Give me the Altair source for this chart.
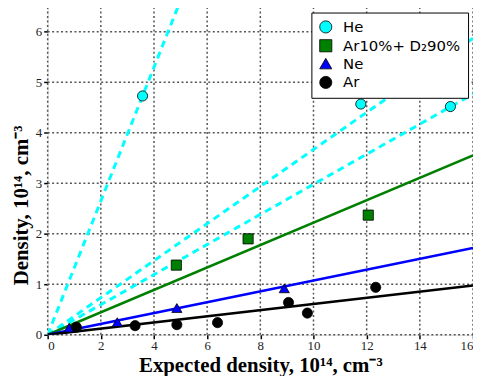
import altair as alt
import pandas as pd

# Measured points
he_x = [3.57, 11.78, 15.15]
he_y = [4.73, 4.57, 4.52]
mix_x = [4.84, 7.54, 12.06]
mix_y = [1.38, 1.90, 2.37]
ne_x = [0.81, 2.62, 4.86, 8.90]
ne_y = [0.14, 0.25, 0.53, 0.92]
ar_x = [1.08, 3.29, 4.86, 6.39, 9.06, 9.77, 12.34]
ar_y = [0.15, 0.18, 0.20, 0.24, 0.64, 0.43, 0.94]

series = ["He", "Ar10%+ D₂90%", "Ne", "Ar"]
colors = ["#00FFFF", "#008000", "#0000FF", "#000000"]
shapes = ["circle", "square", "triangle-up", "circle"]

# Fit lines through origin (slopes)
line_names = ["He a", "He b", "He c", "mix", "Ne", "Ar"]
line_slopes = [1.325, 0.367, 0.298, 0.222, 0.1075, 0.061]
line_colors = ["#00FFFF", "#00FFFF", "#00FFFF", "#008000", "#0000FF", "#000000"]
line_dashed = [True, True, True, False, False, False]
x_span = [0.0, 16.0]

x_ticks = [0, 2, 4, 6, 8, 10, 12, 14, 16]
y_ticks = [0, 1, 2, 3, 4, 5, 6]
x_min, x_max = 0, 16
y_min, y_max = 0, 6.5

W, H = 429, 331

rows = []
for name, xs_, ys_ in [(series[0], he_x, he_y), (series[1], mix_x, mix_y),
                       (series[2], ne_x, ne_y), (series[3], ar_x, ar_y)]:
    for a, b in zip(xs_, ys_):
        rows.append({"x": a, "y": b, "s": name})
pts = pd.DataFrame(rows)

lrows = []
for n, k, c, d in zip(line_names, line_slopes, line_colors, line_dashed):
    for xv in x_span:
        lrows.append({"x": xv, "y": k * xv, "n": n, "c": c, "d": d})
lines = pd.DataFrame(lrows)

# grid segments (built from tick values)
grows = []
for v in x_ticks:
    grows.append({"x": v, "y": y_min, "g": f"x{v}", "o": 0})
    grows.append({"x": v, "y": y_max, "g": f"x{v}", "o": 1})
for v in y_ticks:
    grows.append({"x": x_min, "y": v, "g": f"y{v}", "o": 0})
    grows.append({"x": x_max, "y": v, "g": f"y{v}", "o": 1})
grid = pd.DataFrame(grows)

xs = alt.Scale(domain=[x_min, x_max], nice=False)
ys = alt.Scale(domain=[y_min, y_max], nice=False)

ax_kw = dict(grid=False, ticks=True, tickColor="#000000", tickSize=4, tickWidth=1.5,
             domain=False,
             labelFont="Liberation Serif", labelFontSize=13, labelColor="#222222",
             titleFont="Liberation Serif", titleFontSize=21, titleFontWeight="bold",
             titleColor="#000000")
xax = alt.Axis(values=x_ticks, title="Expected density, 10¹⁴, cm⁻³",
               labelPadding=1, titlePadding=2, **ax_kw)
yax = alt.Axis(values=y_ticks, title="Density, 10¹⁴, cm⁻³",
               labelPadding=2, titlePadding=4, titleY=200, **ax_kw)

grid_layer = alt.Chart(grid).mark_line(color="#555555", strokeWidth=1.5,
                                       strokeDash=[2, 2.5]).encode(
    x=alt.X("x:Q", scale=xs, axis=xax),
    y=alt.Y("y:Q", scale=ys, axis=yax),
    detail="g:N",
    order="o:Q",
)

base_lines = alt.Chart(lines)

dashed = base_lines.transform_filter("datum.d").mark_line(
    strokeWidth=3, strokeDash=[7, 5], clip=True).encode(
    x=alt.X("x:Q", scale=xs),
    y=alt.Y("y:Q", scale=ys),
    detail="n:N",
    color=alt.Color("c:N", scale=None),
)
solid = base_lines.transform_filter("!datum.d").mark_line(
    strokeWidth=2.6, clip=True).encode(
    x=alt.X("x:Q", scale=xs),
    y=alt.Y("y:Q", scale=ys),
    detail="n:N",
    color=alt.Color("c:N", scale=None),
)

points = alt.Chart(pts).mark_point(filled=True, size=105, stroke="black",
                                   strokeWidth=0.8, opacity=1, clip=True).encode(
    x=alt.X("x:Q", scale=xs),
    y=alt.Y("y:Q", scale=ys),
    color=alt.Color("s:N", scale=alt.Scale(domain=series, range=colors),
                    legend=alt.Legend(title=None, orient="none", legendX=266, legendY=6,
                                      fillColor="white", strokeColor="black",
                                      padding=7, rowPadding=2, symbolSize=150,
                                      symbolStrokeColor="black", symbolStrokeWidth=0.8,
                                      labelFont="DejaVu Sans", labelFontSize=15,
                                      labelColor="#000000", labelOffset=10,
                                      symbolOpacity=1, cornerRadius=0, labelLimit=200)),
    shape=alt.Shape("s:N", scale=alt.Scale(domain=series, range=shapes)),
)

chart = alt.layer(grid_layer, dashed, solid, points).properties(
    width=W, height=H,
    autosize=alt.AutoSizeParams(type="none"),
    padding={"left": 40, "top": -3, "right": 0, "bottom": 40},
).configure_view(stroke="black", strokeWidth=1.5).configure(background="white")

chart.save("out.html", embed_options={"renderer": "svg", "actions": False})
